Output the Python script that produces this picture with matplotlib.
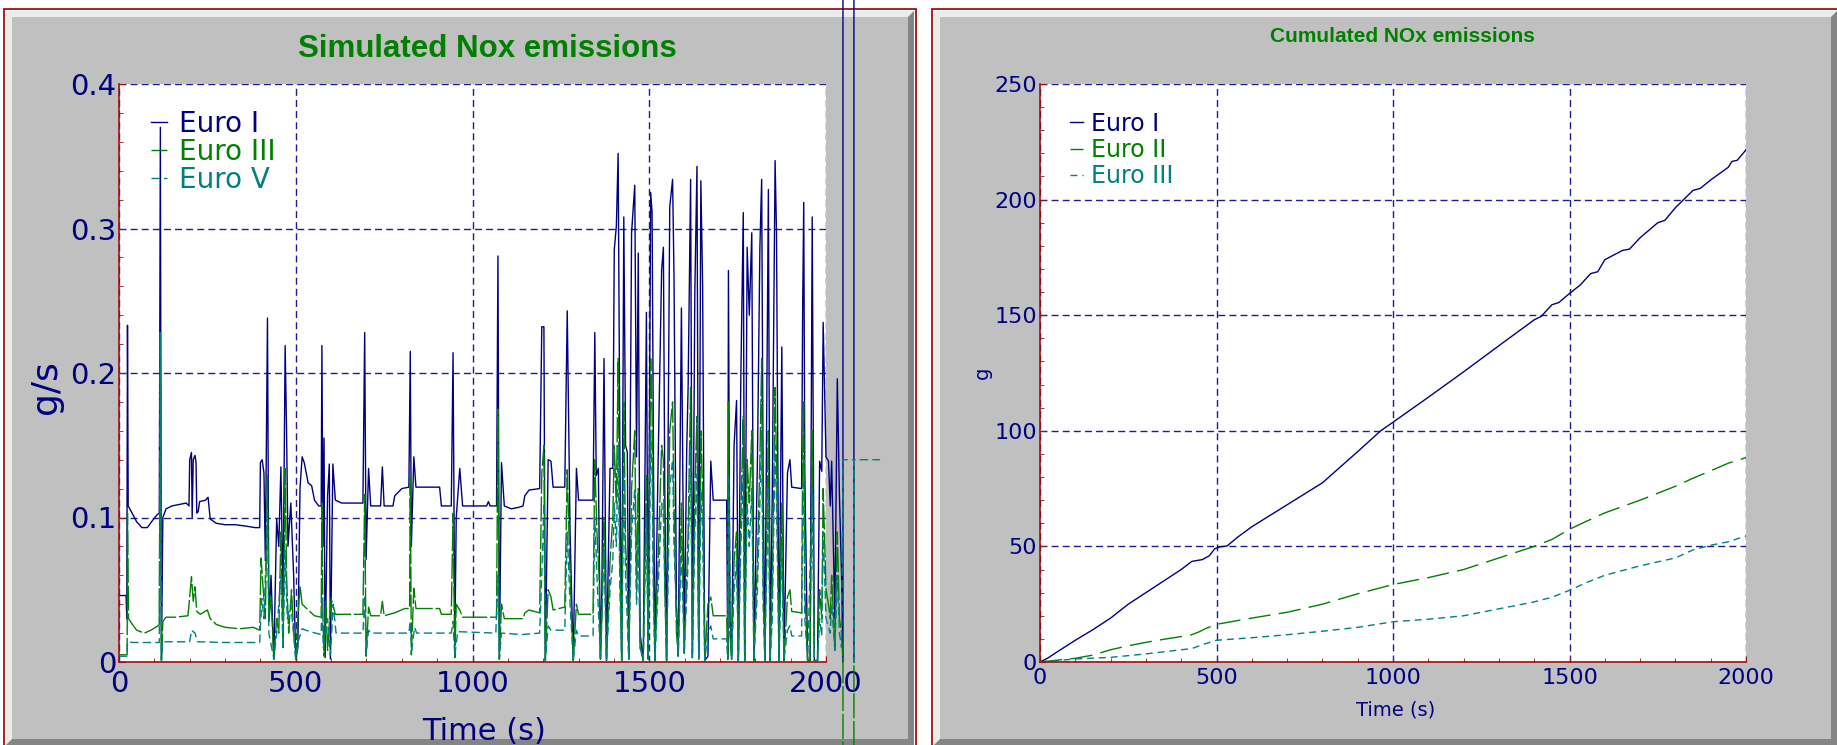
import numpy as np
import matplotlib
matplotlib.use('Agg')
import matplotlib.pyplot as plt
from matplotlib.patches import Rectangle, Polygon

# --- data (time in s, value) ---

# left chart: NOx emission rate, g/s
euro1_pts = [
    (0, 0.046), (20, 0.046), (22, 0.030), (24, 0.233), (26, 0.108), (35, 0.104), (50, 0.097),
    (65, 0.093), (80, 0.093), (95, 0.098), (108, 0.102), (114, 0.103), (117, 0.37), (120, 0.001),
    (124, 0.100), (133, 0.106), (150, 0.108), (170, 0.109), (190, 0.110), (198, 0.108), (200, 0.140),
    (205, 0.145), (207, 0.100), (210, 0.140), (215, 0.143), (218, 0.138), (220, 0.103), (224, 0.104),
    (228, 0.111), (245, 0.112), (252, 0.114), (258, 0.099), (275, 0.096), (300, 0.095), (330, 0.095),
    (360, 0.094), (385, 0.093), (398, 0.093), (400, 0.138), (405, 0.140), (410, 0.131), (414, 0.070),
    (420, 0.238), (424, 0.028), (430, 0.060), (438, 0.002), (446, 0.099), (452, 0.080), (458, 0.135),
    (464, 0.040), (470, 0.219), (474, 0.160), (478, 0.080), (486, 0.110), (494, 0.060), (500, 0.002),
    (506, 0.010), (512, 0.120), (518, 0.142), (524, 0.138), (535, 0.124), (545, 0.122), (553, 0.112),
    (565, 0.108), (572, 0.108), (574, 0.219), (577, 0.080), (580, 0.155), (583, 0.003), (590, 0.115),
    (595, 0.137), (598, 0.002), (605, 0.137), (612, 0.112), (630, 0.110), (660, 0.110), (690, 0.110),
    (695, 0.228), (699, 0.071), (706, 0.134), (712, 0.108), (740, 0.108), (745, 0.135), (750, 0.108),
    (775, 0.108), (780, 0.115), (800, 0.120), (820, 0.121), (824, 0.215), (827, 0.080), (834, 0.142),
    (840, 0.121), (870, 0.121), (907, 0.121), (912, 0.108), (940, 0.108), (945, 0.214), (950, 0.013),
    (954, 0.100), (964, 0.134), (972, 0.108), (1000, 0.108), (1040, 0.108), (1045, 0.111), (1050, 0.108),
    (1068, 0.108), (1072, 0.281), (1076, 0.002), (1082, 0.138), (1090, 0.108), (1110, 0.106), (1130, 0.107),
    (1143, 0.108), (1148, 0.115), (1160, 0.119), (1190, 0.120), (1196, 0.232), (1202, 0.232), (1206, 0.001),
    (1214, 0.140), (1222, 0.139), (1228, 0.121), (1261, 0.121), (1268, 0.243), (1276, 0.090), (1285, 0.001),
    (1294, 0.134), (1300, 0.112), (1341, 0.112), (1346, 0.228), (1350, 0.129), (1356, 0.134), (1362, 0.002),
    (1366, 0.051), (1372, 0.210), (1379, 0.001), (1389, 0.134), (1397, 0.134), (1401, 0.285), (1407, 0.302),
    (1412, 0.352), (1417, 0.142), (1422, 0.001), (1428, 0.308), (1433, 0.150), (1438, 0.145), (1442, 0.002),
    (1450, 0.297), (1459, 0.330), (1464, 0.142), (1469, 0.283), (1474, 0.020), (1483, 0.001), (1492, 0.242),
    (1497, 0.002), (1504, 0.325), (1508, 0.311), (1512, 0.137), (1516, 0.001), (1525, 0.137), (1535, 0.271),
    (1540, 0.287), (1544, 0.116), (1549, 0.001), (1558, 0.315), (1566, 0.334), (1570, 0.268), (1577, 0.038),
    (1582, 0.007), (1591, 0.245), (1599, 0.013), (1606, 0.147), (1610, 0.191), (1617, 0.334), (1622, 0.005),
    (1629, 0.257), (1635, 0.343), (1640, 0.002), (1646, 0.333), (1651, 0.260), (1657, 0.001), (1666, 0.004),
    (1674, 0.139), (1681, 0.112), (1719, 0.112), (1722, 0.002), (1724, 0.271), (1728, 0.038), (1733, 0.002),
    (1740, 0.150), (1747, 0.181), (1752, 0.001), (1759, 0.196), (1766, 0.311), (1770, 0.001), (1777, 0.287),
    (1783, 0.240), (1790, 0.297), (1796, 0.001), (1806, 0.139), (1813, 0.287), (1818, 0.334), (1822, 0.132),
    (1827, 0.001), (1837, 0.327), (1842, 0.001), (1848, 0.116), (1856, 0.347), (1860, 0.297), (1867, 0.001),
    (1875, 0.218), (1881, 0.001), (1891, 0.131), (1898, 0.140), (1903, 0.121), (1931, 0.120), (1934, 0.245),
    (1937, 0.318), (1940, 0.132), (1948, 0.001), (1955, 0.001), (1961, 0.308), (1967, 0.001), (1976, 0.001),
    (1982, 0.139), (1988, 0.132), (1992, 0.235), (2000, 0.142), (2007, 0.139), (2012, 0.108), (2016, 0.139),
    (2025, 0.030), (2032, 0.196), (2038, 0.115), (2044, 0.060), (2048, 0.0), (2048, 3.0), (2079, 3.0),
    (2079, 0.0),
]

euro3_pts = [
    (0, 0.005), (23, 0.005), (24, 0.103), (27, 0.030), (35, 0.027), (50, 0.022), (72, 0.020), (90, 0.022),
    (110, 0.025), (114, 0.026), (117, 0.228), (120, 0.001), (124, 0.028), (133, 0.031), (160, 0.031),
    (195, 0.032), (200, 0.045), (205, 0.059), (210, 0.042), (215, 0.052), (220, 0.035), (230, 0.033),
    (250, 0.036), (258, 0.030), (275, 0.026), (300, 0.024), (340, 0.023), (380, 0.024), (398, 0.022),
    (402, 0.072), (408, 0.050), (414, 0.030), (420, 0.129), (424, 0.028), (430, 0.045), (438, 0.002),
    (446, 0.030), (452, 0.020), (458, 0.090), (464, 0.010), (470, 0.134), (474, 0.060), (480, 0.020),
    (488, 0.050), (494, 0.020), (500, 0.002), (506, 0.030), (512, 0.053), (518, 0.040), (535, 0.036),
    (553, 0.032), (572, 0.031), (574, 0.110), (577, 0.030), (580, 0.004), (585, 0.042), (590, 0.008),
    (600, 0.044), (612, 0.033), (690, 0.033), (695, 0.116), (699, 0.004), (706, 0.038), (712, 0.032),
    (740, 0.032), (745, 0.042), (750, 0.032), (780, 0.034), (808, 0.037), (822, 0.037), (824, 0.129),
    (827, 0.005), (834, 0.051), (840, 0.037), (907, 0.037), (912, 0.033), (940, 0.033), (945, 0.103),
    (950, 0.003), (954, 0.040), (964, 0.036), (972, 0.031), (1068, 0.031), (1072, 0.175), (1076, 0.002),
    (1082, 0.040), (1090, 0.030), (1143, 0.030), (1148, 0.034), (1160, 0.036), (1190, 0.034), (1196, 0.130),
    (1202, 0.150), (1206, 0.001), (1214, 0.050), (1222, 0.045), (1228, 0.036), (1261, 0.038), (1268, 0.133),
    (1276, 0.060), (1285, 0.001), (1294, 0.040), (1300, 0.033), (1341, 0.033), (1346, 0.140), (1352, 0.090),
    (1358, 0.060), (1362, 0.002), (1366, 0.030), (1372, 0.100), (1379, 0.001), (1389, 0.070), (1397, 0.100),
    (1401, 0.150), (1407, 0.110), (1412, 0.210), (1417, 0.070), (1422, 0.001), (1428, 0.180), (1433, 0.080),
    (1438, 0.060), (1442, 0.002), (1450, 0.120), (1459, 0.160), (1464, 0.050), (1469, 0.120), (1474, 0.010),
    (1483, 0.001), (1492, 0.130), (1497, 0.002), (1504, 0.210), (1508, 0.170), (1512, 0.060), (1516, 0.001),
    (1525, 0.070), (1535, 0.150), (1540, 0.140), (1544, 0.050), (1549, 0.001), (1558, 0.160), (1566, 0.180),
    (1570, 0.110), (1577, 0.020), (1582, 0.004), (1591, 0.110), (1599, 0.006), (1606, 0.060), (1610, 0.090),
    (1617, 0.190), (1622, 0.003), (1629, 0.120), (1635, 0.170), (1640, 0.002), (1646, 0.160), (1651, 0.120),
    (1657, 0.001), (1666, 0.040), (1674, 0.045), (1681, 0.032), (1719, 0.032), (1722, 0.002), (1724, 0.180),
    (1728, 0.020), (1733, 0.002), (1740, 0.070), (1747, 0.090), (1752, 0.001), (1759, 0.100), (1766, 0.170),
    (1770, 0.001), (1777, 0.140), (1783, 0.110), (1790, 0.160), (1796, 0.001), (1806, 0.070), (1813, 0.140),
    (1818, 0.210), (1822, 0.060), (1827, 0.001), (1837, 0.160), (1842, 0.001), (1848, 0.050), (1856, 0.190),
    (1860, 0.140), (1867, 0.001), (1875, 0.110), (1881, 0.001), (1891, 0.045), (1898, 0.050), (1903, 0.035),
    (1931, 0.034), (1934, 0.140), (1937, 0.180), (1940, 0.050), (1948, 0.001), (1955, 0.001), (1961, 0.160),
    (1967, 0.001), (1976, 0.001), (1982, 0.050), (1988, 0.030), (1992, 0.120), (2000, 0.050), (2007, 0.040),
    (2012, 0.030), (2016, 0.060), (2025, 0.010), (2032, 0.090), (2038, 0.030), (2044, 0.020), (2048, 0.0),
    (2048, -3.0), (2079, -3.0), (2079, 0.0),
]

euro5_pts = [
    (0, 0.004), (22, 0.004), (24, 0.014), (40, 0.0135), (114, 0.0135), (117, 0.228), (120, 0.001),
    (124, 0.014), (200, 0.014), (205, 0.022), (215, 0.020), (222, 0.014), (300, 0.0135), (398, 0.0135),
    (404, 0.044), (410, 0.030), (420, 0.103), (424, 0.020), (438, 0.002), (446, 0.020), (458, 0.060),
    (464, 0.010), (470, 0.077), (476, 0.030), (486, 0.040), (494, 0.020), (500, 0.002), (508, 0.015),
    (518, 0.023), (540, 0.021), (572, 0.019), (574, 0.046), (578, 0.010), (590, 0.030), (598, 0.005),
    (606, 0.040), (614, 0.020), (690, 0.020), (695, 0.046), (699, 0.005), (706, 0.022), (712, 0.020),
    (820, 0.020), (824, 0.028), (828, 0.008), (836, 0.024), (842, 0.020), (940, 0.020), (945, 0.028),
    (950, 0.004), (958, 0.021), (1066, 0.020), (1072, 0.060), (1076, 0.002), (1082, 0.020), (1140, 0.019),
    (1190, 0.020), (1196, 0.060), (1202, 0.110), (1206, 0.001), (1214, 0.025), (1222, 0.022), (1261, 0.022),
    (1268, 0.090), (1276, 0.040), (1285, 0.001), (1294, 0.022), (1300, 0.018), (1341, 0.018), (1346, 0.100),
    (1352, 0.060), (1362, 0.002), (1372, 0.080), (1379, 0.001), (1389, 0.050), (1397, 0.070), (1401, 0.110),
    (1407, 0.080), (1412, 0.150), (1417, 0.050), (1422, 0.001), (1428, 0.130), (1433, 0.060), (1442, 0.002),
    (1450, 0.090), (1459, 0.120), (1464, 0.040), (1469, 0.090), (1474, 0.010), (1483, 0.001), (1492, 0.100),
    (1497, 0.002), (1504, 0.160), (1508, 0.130), (1512, 0.040), (1516, 0.001), (1525, 0.050), (1535, 0.110),
    (1540, 0.100), (1549, 0.001), (1558, 0.120), (1566, 0.140), (1570, 0.080), (1582, 0.004), (1591, 0.080),
    (1599, 0.006), (1610, 0.070), (1617, 0.150), (1622, 0.003), (1629, 0.090), (1635, 0.130), (1640, 0.002),
    (1646, 0.120), (1651, 0.090), (1657, 0.001), (1666, 0.020), (1674, 0.025), (1681, 0.016), (1719, 0.016),
    (1722, 0.002), (1724, 0.130), (1733, 0.002), (1740, 0.050), (1747, 0.070), (1752, 0.001), (1759, 0.080),
    (1766, 0.130), (1770, 0.001), (1777, 0.110), (1783, 0.080), (1790, 0.120), (1796, 0.001), (1806, 0.050),
    (1813, 0.110), (1818, 0.160), (1822, 0.040), (1827, 0.001), (1837, 0.120), (1842, 0.001), (1848, 0.030),
    (1856, 0.150), (1860, 0.110), (1867, 0.001), (1875, 0.080), (1881, 0.001), (1891, 0.022), (1898, 0.025),
    (1903, 0.018), (1931, 0.018), (1934, 0.100), (1937, 0.140), (1940, 0.030), (1948, 0.001), (1961, 0.120),
    (1967, 0.001), (1976, 0.001), (1982, 0.030), (1988, 0.018), (1992, 0.090), (2000, 0.030), (2012, 0.020),
    (2016, 0.040), (2025, 0.008), (2032, 0.060), (2038, 0.020), (2044, 0.010), (2048, 0.140), (2079, 0.140),
    (2079, 0.0), (2079, 0.140), (2153, 0.140),
]

# right chart: cumulated NOx, g
cum1_pts = [
    (0, 0), (20, 1.5), (50, 4.5), (100, 9.4), (150, 14), (200, 19), (250, 25), (300, 30), (350, 35),
    (400, 40), (430, 43.5), (460, 44.3), (480, 46), (495, 49), (510, 49.8), (530, 50.2), (560, 54),
    (600, 58.5), (700, 68), (800, 77.5), (900, 91), (965, 100), (1000, 103.7), (1100, 114.5),
    (1200, 125.5), (1300, 136.8), (1400, 148), (1420, 149.5), (1450, 154.5), (1470, 155.5), (1500, 159.4),
    (1530, 163), (1560, 168), (1580, 168.8), (1600, 174), (1650, 178), (1670, 178.6), (1700, 183.5),
    (1750, 190), (1770, 191), (1800, 196.5), (1830, 201), (1850, 204), (1870, 204.8), (1900, 208.5),
    (1950, 214), (1960, 216.5), (1975, 217), (2000, 221.5),
]
cum2_pts = [
    (0, 0), (50, 0.8), (100, 1.6), (150, 3), (200, 5.3), (250, 7), (300, 8.5), (350, 9.8), (400, 11),
    (430, 11.8), (450, 13), (470, 14.5), (500, 16.3), (600, 19), (700, 21.5), (800, 25), (900, 29.5),
    (1000, 33.5), (1100, 36.5), (1200, 40), (1300, 45), (1400, 50), (1450, 53), (1500, 57.4), (1550, 61),
    (1600, 64.5), (1700, 70), (1800, 76), (1850, 79.5), (1900, 82.7), (1950, 86), (2000, 88.4),
]
cum3_pts = [
    (0, 0), (100, 1.3), (200, 2), (300, 3.5), (400, 5.3), (430, 5.8), (460, 7.5), (500, 9.4), (600, 10.5),
    (700, 11.8), (800, 13.3), (900, 15), (1000, 17.4), (1100, 18.5), (1200, 20), (1300, 23), (1400, 26),
    (1450, 28), (1500, 31), (1550, 34.5), (1600, 37.5), (1700, 41.6), (1800, 45), (1850, 48.5),
    (1900, 50.5), (1950, 52), (2000, 54.5),
]

left_labels = ['Euro I', 'Euro III', 'Euro V']
right_labels = ['Euro I', 'Euro II', 'Euro III']
left_yticks = [0, 0.1, 0.2, 0.3, 0.4]
left_yticklabels = ['0', '0.1', '0.2', '0.3', '0.4']
right_yticks = [0, 50, 100, 150, 200, 250]
xticks = [0, 500, 1000, 1500, 2000]

NAVY = '#000080'
GREEN = '#008000'
TEAL = '#008080'
RED = '#a01010'
GRID = '#1c1c90'
PANEL = '#c0c0c0'

W, H = 1837, 745
fig = plt.figure(figsize=(W / 100, H / 100), dpi=100)
fig.patch.set_facecolor('white')


def fx(x):
    return x / W


def fy(y):
    return 1 - y / H


def panel(x0, y0, x1, y1):
    # bevelled gray panel with red outline (pixel coords, y down)
    b = 6
    fig.add_artist(Rectangle((fx(x0), fy(y1)), fx(x1 - x0), (y1 - y0) / H,
                             transform=fig.transFigure, facecolor='#ececec', edgecolor='none', zorder=-3))
    dark = [(x1, y0), (x1, y1), (x0, y1), (x0 + b, y1 - b), (x1 - b, y1 - b), (x1 - b, y0 + b)]
    fig.add_artist(Polygon([(fx(a), fy(c)) for a, c in dark], closed=True,
                           transform=fig.transFigure, facecolor='#858585', edgecolor='none', zorder=-3))
    fig.add_artist(Rectangle((fx(x0 + b), fy(y1 - b)), fx(x1 - x0 - 2 * b), (y1 - y0 - 2 * b) / H,
                             transform=fig.transFigure, facecolor=PANEL, edgecolor='none', zorder=-2))
    fig.add_artist(Rectangle((fx(x0 - 2), fy(y1 + 2)), fx(x1 - x0 + 4), (y1 - y0 + 4) / H,
                             transform=fig.transFigure, facecolor='none', edgecolor=RED, lw=1.3, zorder=-1))


panel(6, 11, 914, 745)
panel(934, 11, 1837, 745)


def style_axes(ax, labelsize):
    ax.set_facecolor('white')
    for s in ['top', 'right']:
        ax.spines[s].set_visible(False)
    for s in ['left', 'bottom']:
        ax.spines[s].set_color(RED)
        ax.spines[s].set_linewidth(1.2)
    ax.grid(True, which='major', color=GRID, linestyle=(0, (5, 3)), lw=1.0)
    ax.tick_params(which='major', direction='in', length=4, color=RED, labelcolor=NAVY,
                   labelsize=labelsize, pad=2)
    ax.tick_params(which='minor', direction='in', length=3, color=RED)


# ---- left: simulated NOx emissions ----
ax1 = fig.add_axes([fx(119), fy(662), fx(826 - 119), (662 - 84) / H])
for pts, lab, col, ls in zip([euro1_pts, euro3_pts, euro5_pts], left_labels,
                             [NAVY, GREEN, TEAL], ['-', (0, (18, 2)), (0, (6, 3))]):
    t, v = np.array(pts).T
    ax1.plot(t, v, color=col, lw=1.0, ls=ls, label=lab, clip_on=False)

ax1.set_xlim(0, 2000)
ax1.set_ylim(0, 0.4)
ax1.set_xticks(xticks)
ax1.set_xticks(np.arange(0, 2001, 100), minor=True)
ax1.set_yticks(left_yticks)
ax1.set_yticklabels(left_yticklabels)
ax1.set_yticks(np.arange(0, 0.401, 0.02), minor=True)
style_axes(ax1, 21)
ax1.tick_params(axis='x', which='major', pad=6)

ax1.set_xlabel('Time (s)', fontsize=22, color=NAVY)
ax1.xaxis.label.set_va('center')
ax1.xaxis.set_label_coords(0.516, -0.121)
ax1.set_ylabel('g/s', fontsize=26, color=NAVY)
ax1.yaxis.label.set_va('center')
ax1.yaxis.set_label_coords(-0.103, 0.476)

ax1.legend(loc='upper left', bbox_to_anchor=(0.045, 0.955), frameon=False, fontsize=20,
           handlelength=0.6, handletextpad=0.4, labelspacing=0.0, borderpad=0,
           borderaxespad=0, labelcolor='linecolor')

fig.text(fx(487), fy(49), 'Simulated Nox emissions', color=GREEN, fontsize=22.5,
         fontweight='bold', family='Liberation Sans', ha='center', va='center')

# ---- right: cumulated NOx emissions ----
ax2 = fig.add_axes([fx(1040), fy(662), fx(1746 - 1040), (662 - 84) / H])
for pts, lab, col, ls in zip([cum1_pts, cum2_pts, cum3_pts], right_labels,
                             [NAVY, GREEN, TEAL], ['-', (0, (16, 6)), (0, (5, 3.5))]):
    t, v = np.array(pts).T
    ax2.plot(t, v, color=col, lw=1.0, ls=ls, label=lab)

ax2.set_xlim(0, 2000)
ax2.set_ylim(0, 250)
ax2.set_xticks(xticks)
ax2.set_xticks(np.arange(0, 2001, 100), minor=True)
ax2.set_yticks(right_yticks)
ax2.set_yticks(np.arange(0, 251, 10), minor=True)
style_axes(ax2, 16)
ax2.tick_params(axis='x', which='major', pad=4)

ax2.set_xlabel('Time (s)', fontsize=14, color=NAVY)
ax2.xaxis.label.set_va('center')
ax2.xaxis.set_label_coords(0.504, -0.083)
ax2.set_ylabel('g', fontsize=14, color=NAVY)
ax2.yaxis.label.set_va('center')
ax2.yaxis.set_label_coords(-0.082, 0.5)

ax2.legend(loc='upper left', bbox_to_anchor=(0.042, 0.952), frameon=False, fontsize=17,
           handlelength=0.55, handletextpad=0.35, labelspacing=0.1, borderpad=0,
           borderaxespad=0, labelcolor='linecolor')

fig.text(fx(1402), fy(37), 'Cumulated NOx emissions', color=GREEN, fontsize=15,
         fontweight='bold', family='Liberation Sans', ha='center', va='center')

fig.savefig('out.png', dpi=100)
